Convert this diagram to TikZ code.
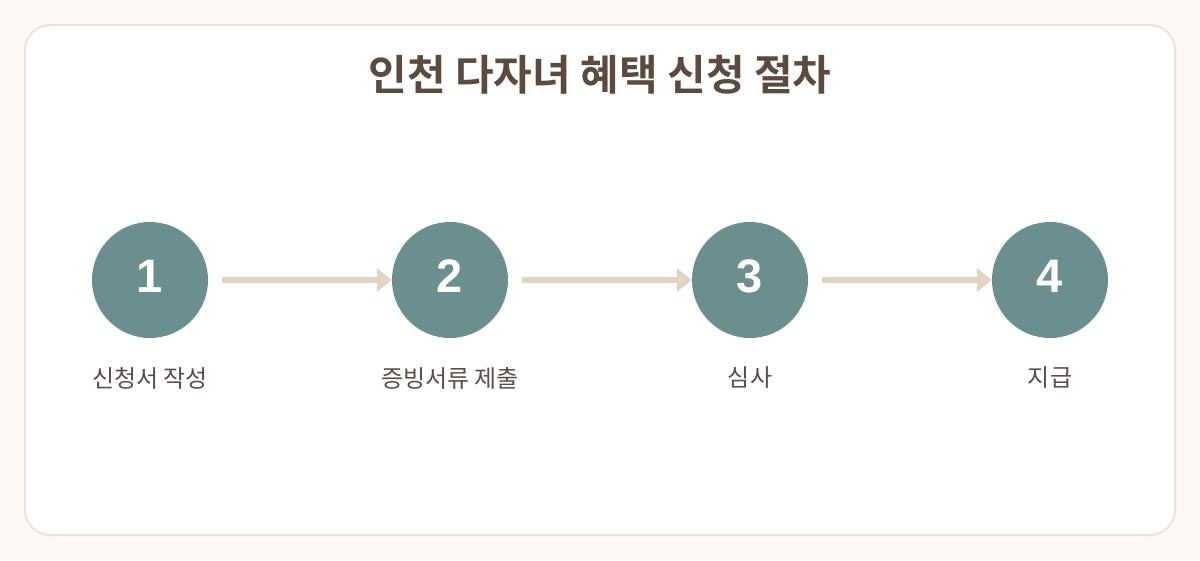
\documentclass[tikz,border=0pt]{standalone}
\usepackage{fontspec}
\usepackage{tikz}
\usetikzlibrary{arrows.meta,positioning}
\newfontfamily\krfont{Noto Sans CJK KR}
\newfontfamily\krbold{Noto Sans CJK KR Bold}
\newfontfamily\numfont{Liberation Sans}
\definecolor{pagebg}{HTML}{FCF8F3}
\definecolor{cardline}{HTML}{EAE3D9}
\definecolor{stepfill}{HTML}{6B8F8E}
\definecolor{flowline}{HTML}{E2D3C3}
\definecolor{titlebrown}{HTML}{5C4A3F}
\definecolor{labelgray}{HTML}{5A4F48}
\tikzstyle{stepdot} = [circle, fill=stepfill, minimum size=116pt, inner sep=0pt]
\tikzstyle{stepnum} = [text=white, font=\numfont\bfseries\fontsize{47}{50}\selectfont]
\tikzstyle{steplabel} = [text=labelgray, font=\krfont\fontsize{24}{28}\selectfont]
\tikzstyle{flow} = [line width=6pt, flowline, -{Triangle[length=15pt,width=23pt]}, shorten <=14pt]

\begin{document}
\begin{tikzpicture}[x=1pt,y=-1pt]
            \fill[pagebg] (0,0) rectangle (1200,560);
            \draw[cardline, line width=2pt, fill=white, rounded corners=25pt] (25,25) rectangle (1175,535);
            \node[text=titlebrown, font=\krbold\fontsize{42}{46}\selectfont] (title) at (600,75) {인천 다자녀 혜택 신청 절차};
            \node[stepdot] (s1) at (150,280) {};
            \node[stepdot] (s2) at (450,280) {};
            \node[stepdot] (s3) at (750,280) {};
            \node[stepdot] (s4) at (1050,280) {};
            \node[stepnum] (n1) at (150,276) {1};
            \node[stepnum] (n2) at (450,276) {2};
            \node[stepnum] (n3) at (750,276) {3};
            \node[stepnum] (n4) at (1050,276) {4};
            \node[steplabel] (l1) at (150,378) {신청서 작성};
            \node[steplabel] (l2) at (450,378) {증빙서류 제출};
            \node[steplabel] (l3) at (750,378) {심사};
            \node[steplabel] (l4) at (1050,378) {지급};
            \draw[flow] (s1) -- (s2);
            \draw[flow] (s2) -- (s3);
            \draw[flow] (s3) -- (s4);
\end{tikzpicture}
\end{document}
